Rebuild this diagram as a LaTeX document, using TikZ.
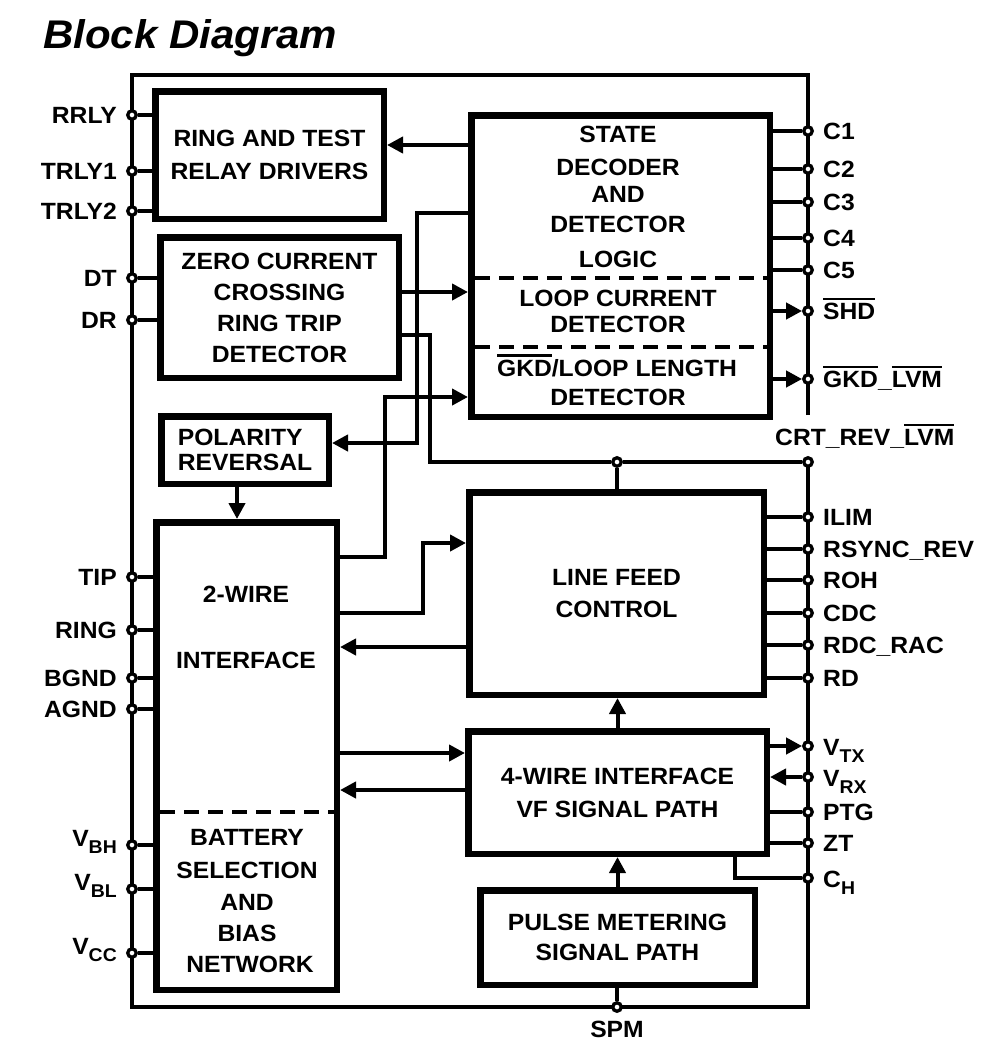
\documentclass[tikz,border=0pt]{standalone}
\usepackage{fontspec}
\setmainfont{Liberation Sans}[FakeStretch=1.05]
\usetikzlibrary{arrows.meta}
\newcommand\bxf[1]{\fontsize{23.5}{#1}\selectfont\bfseries}
\newcommand\pnf{\fontsize{23.5}{28}\selectfont\bfseries}
\newcommand\sbf{\fontsize{18.5}{18.5}\selectfont\bfseries}
\newsavebox\ovbox
\newcommand\ovl[1]{\sbox\ovbox{#1}\rlap{\rule[\dimexpr\ht\ovbox+3pt\relax]{\wd\ovbox}{2.2pt}}\usebox\ovbox}
\newcommand\sbs[2]{#1\raisebox{-7.5pt}{\sbf #2}}
\begin{document}
\begin{tikzpicture}[x=1pt,y=-1pt,
  blk/.style={draw,line width=6.5pt,inner sep=0pt,align=center},
  pin/.style={circle,draw,fill=white,line width=3.3pt,minimum size=8.5pt,inner sep=0pt},
  wire/.style={line width=4pt},
  arr/.style={wire,-{Triangle[length=16pt,width=16pt]}},
  frm/.style={line width=4pt},
  dsh/.style={line width=4pt,dash pattern=on 15pt off 9pt},
  txt/.style={inner sep=0pt,font=\bxf{30},anchor=base},
  ll/.style={inner sep=0pt,font=\pnf,anchor=base east},
  rl/.style={inner sep=0pt,font=\pnf,anchor=base west}]
\useasboundingbox (0,0) rectangle (1000,1061);

% title
\node[anchor=base west,inner sep=0pt,font=\fontsize{40}{40}\selectfont\bfseries\itshape] (title) at (43,48.5) {Block Diagram};

% frame
\draw[frm] (808,415) -- (808,75) -- (132,75) -- (132,1007) -- (808,1007) -- (808,462);

% blocks
\node[blk,minimum width=228.5pt,minimum height=127.5pt,font=\bxf{33}] (rtrd) at (269.5,155) {RING AND TEST\\RELAY DRIVERS};
\node[blk,minimum width=238.5pt,minimum height=140.5pt,font=\bxf{31}] (zcc) at (279.5,307.5) {ZERO CURRENT\\CROSSING\\RING TRIP\\DETECTOR};
\node[blk,minimum width=167.5pt,minimum height=67.5pt,font=\bxf{25},align=left] (pr) at (245,450) {POLARITY\\REVERSAL};
\node[blk,minimum width=180.5pt,minimum height=467.5pt] (tw) at (246.5,756) {};
\node[blk,minimum width=298.5pt,minimum height=301.5pt] (sddl) at (620.5,266) {};
\node[blk,minimum width=294.5pt,minimum height=202.5pt,font=\bxf{32}] (lfc) at (616.5,593.5) {LINE FEED\\CONTROL};
\node[blk,minimum width=298.5pt,minimum height=122.5pt,font=\bxf{33}] (fw) at (617.5,792.5) {4-WIRE INTERFACE\\VF SIGNAL PATH};
\node[blk,minimum width=274.5pt,minimum height=94.5pt,font=\bxf{30}] (pm) at (617.5,937.5) {PULSE METERING\\SIGNAL PATH};

% dividers
\coordinate (d1) at (475,278);
\coordinate (d2) at (475,347);
\coordinate (d3) at (160,812);
\draw[dsh] (d1) -- (d1 -| sddl.east);
\draw[dsh] (d2) -- (d2 -| sddl.east);
\draw[dsh] (d3) -- (d3 -| tw.east);

% texts in state decoder
\node[txt] (s1) at (618,142.5) {STATE};
\node[txt] (s2) at (618,175) {DECODER};
\node[txt] (s3) at (618,202) {AND};
\node[txt] (s4) at (618,232) {DETECTOR};
\node[txt] (s5) at (618,267) {LOGIC};
\node[txt] (s6) at (618,306.5) {LOOP CURRENT};
\node[txt] (s7) at (618,332) {DETECTOR};
\node[txt] (s8) at (617,376) {\ovl{GKD}/LOOP LENGTH};
\node[txt] (s9) at (618,405) {DETECTOR};

% texts in 2-wire block
\node[txt] (t1) at (246,602.5) {2-WIRE};
\node[txt] (t2) at (246,668.5) {INTERFACE};
\node[txt] (t3) at (247,845) {BATTERY};
\node[txt] (t4) at (247,878) {SELECTION};
\node[txt] (t5) at (247,910) {AND};
\node[txt] (t6) at (247,941) {BIAS};
\node[txt] (t7) at (250,972.5) {NETWORK};

% left pins
\foreach \n/\y in {RRLY/115,TRLY1/171,TRLY2/211,DT/278,DR/320,TIP/577,RING/630,BGND/678,AGND/709}{
  \node[pin] (p\n) at (132,\y) {};
  \node[ll] (l\n) at (117,\y+8.5) {\n};
}
\foreach \n/\y/\s in {VBH/845/BH,VBL/889/BL,VCC/953/CC}{
  \node[pin] (p\n) at (132,\y) {};
  \node[ll] (l\n) at (117,\y+1) {\sbs{V}{\s}};
}
\foreach \n in {RRLY,TRLY1,TRLY2}{\draw[wire] (p\n) -- (p\n -| rtrd.west);}
\foreach \n in {DT,DR}{\draw[wire] (p\n) -- (p\n -| zcc.west);}
\foreach \n in {TIP,RING,BGND,AGND,VBH,VBL,VCC}{\draw[wire] (p\n) -- (p\n -| tw.west);}

% right pins
\foreach \n/\y/\t in {C1/131/C1,C2/169/C2,C3/202/C3,C4/238/C4,C5/270/C5,ILIM/517/ILIM,RSYNC/549/RSYNC\_REV,ROH/580/ROH,CDC/613/CDC,RDC/645/RDC\_RAC,RD/678/RD,PTG/812/PTG,ZT/843/ZT}{
  \node[pin] (p\n) at (808,\y) {};
  \node[rl] (l\n) at (823,\y+8.5) {\t};
}
\node[pin] (pSHD) at (808,311) {};
\node[rl] (lSHD) at (823,319.5) {\ovl{SHD}};
\node[pin] (pGKD) at (808,379) {};
\node[rl] (lGKD) at (823,387.5) {\ovl{GKD}\_\ovl{LVM}};
\node[pin] (pCRT) at (808,462) {};
\node[rl] (lCRT) at (775,445) {CRT\_REV\_\ovl{LVM}};
\node[pin] (pVTX) at (808,746) {};
\node[rl] (lVTX) at (823,755) {\sbs{V}{TX}};
\node[pin] (pVRX) at (808,777) {};
\node[rl] (lVRX) at (823,786) {\sbs{V}{RX}};
\node[pin] (pCH) at (808,878) {};
\node[rl] (lCH) at (823,887) {\sbs{C}{H}};
\node[pin] (jn) at (617,462) {};
\node[pin] (pSPM) at (617,1007) {};
\node[txt,font=\pnf] (lSPM) at (617,1037) {SPM};

\foreach \n in {C1,C2,C3,C4,C5}{\draw[wire] (p\n) -- (p\n -| sddl.east);}
\draw[arr] (pSHD -| sddl.east) -- (pSHD);
\draw[arr] (pGKD -| sddl.east) -- (pGKD);
\foreach \n in {ILIM,RSYNC,ROH,CDC,RDC,RD}{\draw[wire] (p\n) -- (p\n -| lfc.east);}
\draw[arr] (pVTX -| fw.east) -- (pVTX);
\draw[arr] (pVRX) -- (pVRX -| fw.east);
\foreach \n in {PTG,ZT}{\draw[wire] (p\n) -- (p\n -| fw.east);}
\coordinate (k14) at (735,878);
\draw[wire] (fw.south -| k14) -- (k14) -- (pCH);

% internal connectors
\coordinate (k1) at (430,145);
\draw[arr] (sddl.west |- k1) -- (rtrd.east |- k1);
\coordinate (k2a) at (417,213);
\coordinate (k2b) at (417,443);
\draw[arr] (sddl.west |- k2a) -- (k2a) -- (k2b) -- (pr.east |- k2b);
\coordinate (k3) at (430,292);
\draw[arr,line width=4.6pt] (zcc.east |- k3) -- (sddl.west |- k3);
\coordinate (k4a) at (430,335);
\coordinate (k4b) at (430,462);
\draw[wire] (zcc.east |- k4a) -- (k4a) -- (k4b) -- (jn);
\draw[wire] (jn) -- (pCRT);
\draw[wire] (jn) -- (jn |- lfc.north);
\coordinate (k5a) at (385,557);
\coordinate (k5b) at (385,397);
\draw[arr] (tw.east |- k5a) -- (k5a) -- (k5b) -- (sddl.west |- k5b);
\coordinate (k6a) at (423,613);
\coordinate (k6b) at (423,543);
\draw[arr] (tw.east |- k6a) -- (k6a) -- (k6b) -- (lfc.west |- k6b);
\coordinate (k7) at (400,647);
\draw[arr] (lfc.west |- k7) -- (tw.east |- k7);
\coordinate (k8) at (400,753);
\draw[arr] (tw.east |- k8) -- (fw.west |- k8);
\coordinate (k9) at (400,790);
\draw[arr] (fw.west |- k9) -- (tw.east |- k9);
\draw[arr] (fw.north) -- (fw.north |- lfc.south);
\draw[arr] (pm.north) -- (pm.north |- fw.south);
\coordinate (k12) at (237,500);
\draw[arr] (pr.south -| k12) -- (tw.north -| k12);
\draw[wire] (pSPM) -- (pSPM |- pm.south);
\end{tikzpicture}
\end{document}
